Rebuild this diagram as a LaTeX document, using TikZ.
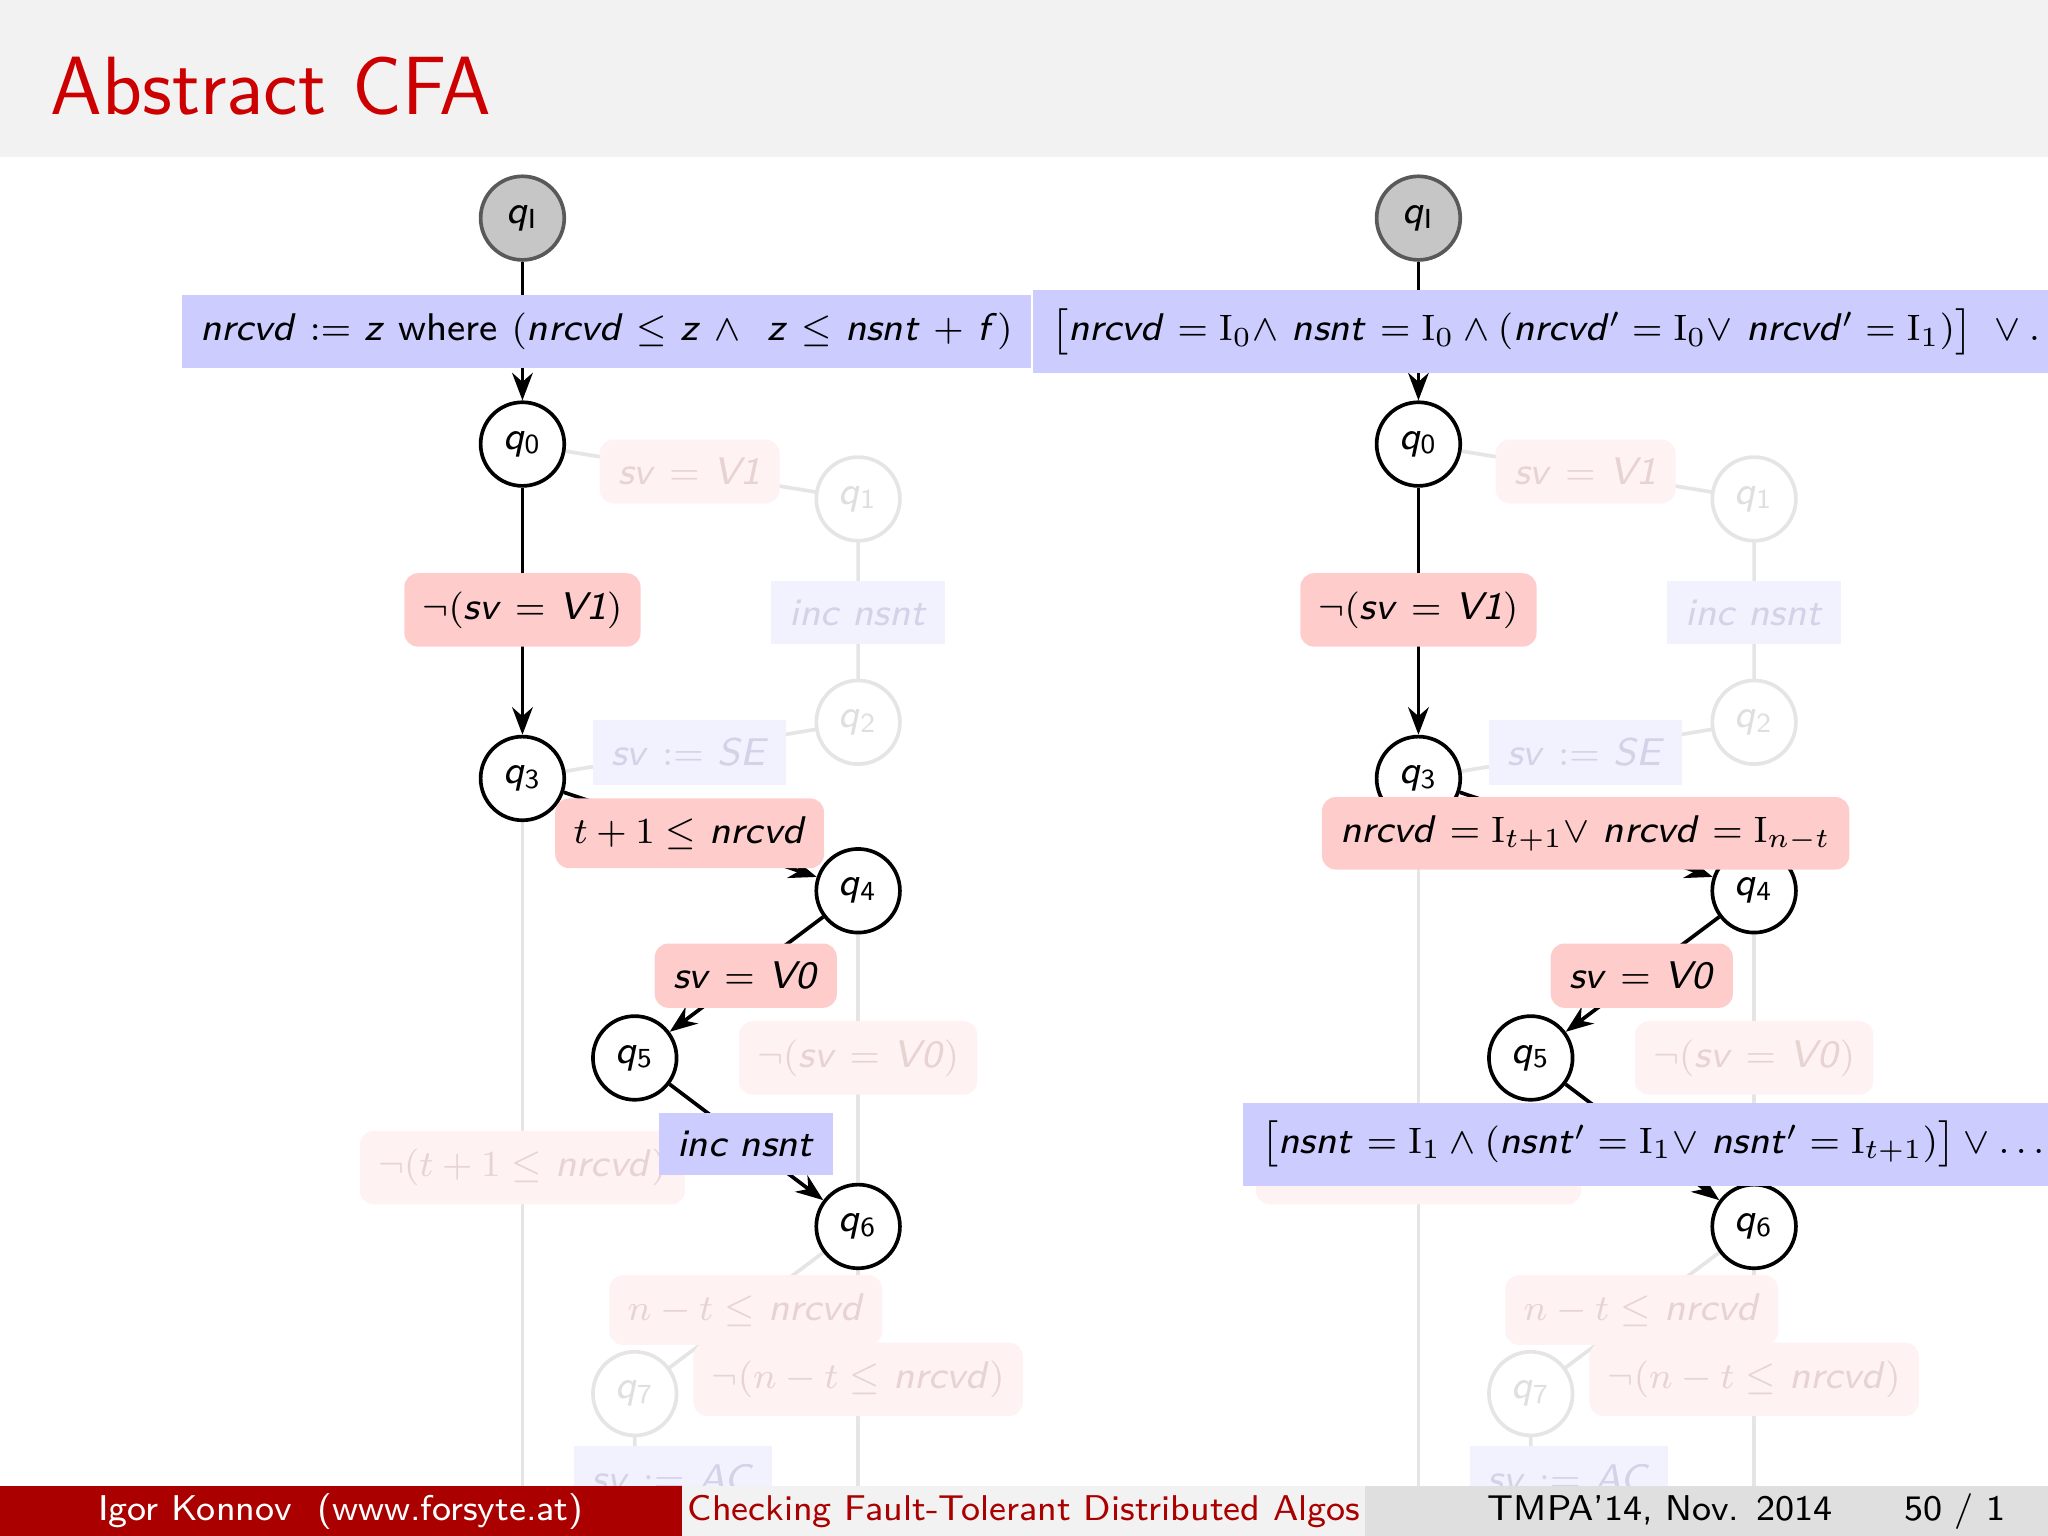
\documentclass[tikz,border=0pt]{standalone}
\usepackage{amsmath,amssymb}
\usetikzlibrary{arrows.meta}
\newcommand\mv[1]{\textsf{\textit{#1}}}
\newcommand\qq[1]{\mv{q}$_{\mathsf{#1}}$}
\definecolor{bb}{RGB}{204,204,255}
\definecolor{rr}{RGB}{255,204,204}
\definecolor{tred}{RGB}{204,0,0}
\definecolor{fred}{RGB}{170,0,0}
\tikzset{
 st/.style={circle,draw,line width=0.8pt,minimum size=0.64cm,inner sep=0pt,font=\fontsize{8.6}{10}\selectfont,fill=white},
 ini/.style={st,fill=gray!45,draw=gray!70!black},
 rl/.style={fill=rr,rounded corners=3pt,inner sep=4pt,font=\fontsize{8.4}{10}\selectfont},
 bl/.style={fill=bb,inner sep=4pt,font=\fontsize{8.4}{10}\selectfont},
 frl/.style={rl,fill=rr!25,text=rr!70!gray!60},
 fbl/.style={bl,fill=bb!25,text=bb!70!gray!60},
 ed/.style={line width=0.8pt,-{Stealth[length=6pt]}},
 fl/.style={draw=gray!20,line width=0.8pt},
}
\begin{document}
\begin{tikzpicture}[x=0.01cm,y=-0.01cm]
\useasboundingbox (0,0) rectangle (1568,1176);
\clip (0,0) rectangle (1568,1176);
\fill[gray!10] (0,0) rectangle (1568,120);
\node[anchor=base west,text=tred,font=\sffamily\fontsize{18}{22}\selectfont,inner sep=0pt] (title) at (38,88) {Abstract CFA};
\foreach \o/\n in {0/L,686/R}{
 \begin{scope}[xshift=\o*0.01cm]
 \draw[fl] (400,612) -- (400,1176);
 \draw[fl] (657,955) -- (657,1176);
 \draw[fl] (657,698) -- (657,923);
 \draw[fl] (400,340) -- (657,382) -- (657,553) -- (400,596);
 \draw[fl] (657,939) -- (486,1067) -- (486,1176);
 \node[st,draw=gray!20,text=gray!25] at (657,382) {\qq1};
 \node[st,draw=gray!20,text=gray!25] at (657,553) {\qq2};
 \node[st,draw=gray!20,text=gray!25] at (486,1067) {\qq7};
 \node[frl] at (528,361) {\mv{sv} $=$ \mv{V1}};
 \node[fbl] at (657,469) {\mv{inc nsnt}};
 \node[fbl] at (528,576) {\mv{sv} $:=$ \mv{SE}};
 \node[frl] at (657,810) {$\neg($\mv{sv} $=$ \mv{V0}$)$};
 \node[frl] at (400,894) {$\neg(t+1\le$ \mv{nrcvd}$)$};
 \node[frl] at (571,1003) {$n-t\le$ \mv{nrcvd}};
 \node[frl] at (657,1056) {$\neg(n-t\le$ \mv{nrcvd}$)$};
 \node[fbl] at (515,1132) {\mv{sv} $:=$ \mv{AC}};
 \node[ini] (qI\n) at (400,167) {\mv{q}$_{\mathsf{I}}$};
 \node[st] (q0\n) at (400,340) {\qq0};
 \node[st] (q3\n) at (400,596) {\qq3};
 \node[st] (q4\n) at (657,682) {\qq4};
 \node[st] (q5\n) at (486,810) {\qq5};
 \node[st] (q6\n) at (657,939) {\qq6};
 \draw[ed] (qI\n) -- (q0\n);
 \draw[ed] (q0\n) -- (q3\n);
 \draw[ed] (q3\n) -- (q4\n);
 \draw[ed] (q4\n) -- (q5\n);
 \draw[ed] (q5\n) -- (q6\n);
 \node[rl] (a\n) at (400,467) {$\neg($\mv{sv} $=$ \mv{V1}$)$};
 \node[rl] (c\n) at (571,747) {\mv{sv} $=$ \mv{V0}};
 \end{scope}}
\node[bl,anchor=east,minimum width=6.11cm,minimum height=0.52cm] (bL) at (790,254) {\mv{nrcvd} $:=$ \mv{z} \textsf{where} $($\mv{nrcvd} $\le$ \mv{z} $\wedge$\ \ \mv{z} $\le$ \mv{nsnt} $+$ \mv{f}$)$};
\node[rl] (tL) at (528,638) {$t+1\le$ \mv{nrcvd}};
\node[bl] (iL) at (571,876) {\mv{inc nsnt}};
\node[bl,anchor=west,minimum height=0.56cm] (bR) at (790,254) {$\bigl[$\mv{nrcvd} $=\mathrm{I}_0\wedge$ \mv{nsnt} $=\mathrm{I}_0\wedge($\mv{nrcvd}$'=\mathrm{I}_0\vee$ \mv{nrcvd}$'=\mathrm{I}_1)\bigr]\ \vee\dots$};
\node[rl] (tR) at (1214,638) {\mv{nrcvd} $=\mathrm{I}_{t+1}\vee$ \mv{nrcvd} $=\mathrm{I}_{n-t}$};
\node[bl,anchor=west,minimum height=0.56cm,minimum width=6.12cm] (iR) at (951,876) {$\bigl[$\mv{nsnt} $=\mathrm{I}_1\wedge($\mv{nsnt}$'=\mathrm{I}_1\vee$ \mv{nsnt}$'=\mathrm{I}_{t+1})\bigr]\vee\dots$};
\fill[fred] (0,1138) rectangle (522,1176);
\fill[gray!10] (522,1138) rectangle (1045,1176);
\fill[gray!25] (1045,1138) rectangle (1568,1176);
\node[text=white,font=\sffamily\fontsize{7.8}{9}\selectfont] (f1) at (261,1157) {Igor Konnov\ \ (www.forsyte.at)};
\node[text=fred,font=\sffamily\fontsize{7.8}{9}\selectfont] (f2) at (784,1157) {Checking Fault-Tolerant Distributed Algos};
\node[anchor=east,font=\sffamily\fontsize{7.8}{9}\selectfont] (f3) at (1548,1157) {TMPA'14, Nov. 2014\qquad 50 / 1};
\end{tikzpicture}
\end{document}
